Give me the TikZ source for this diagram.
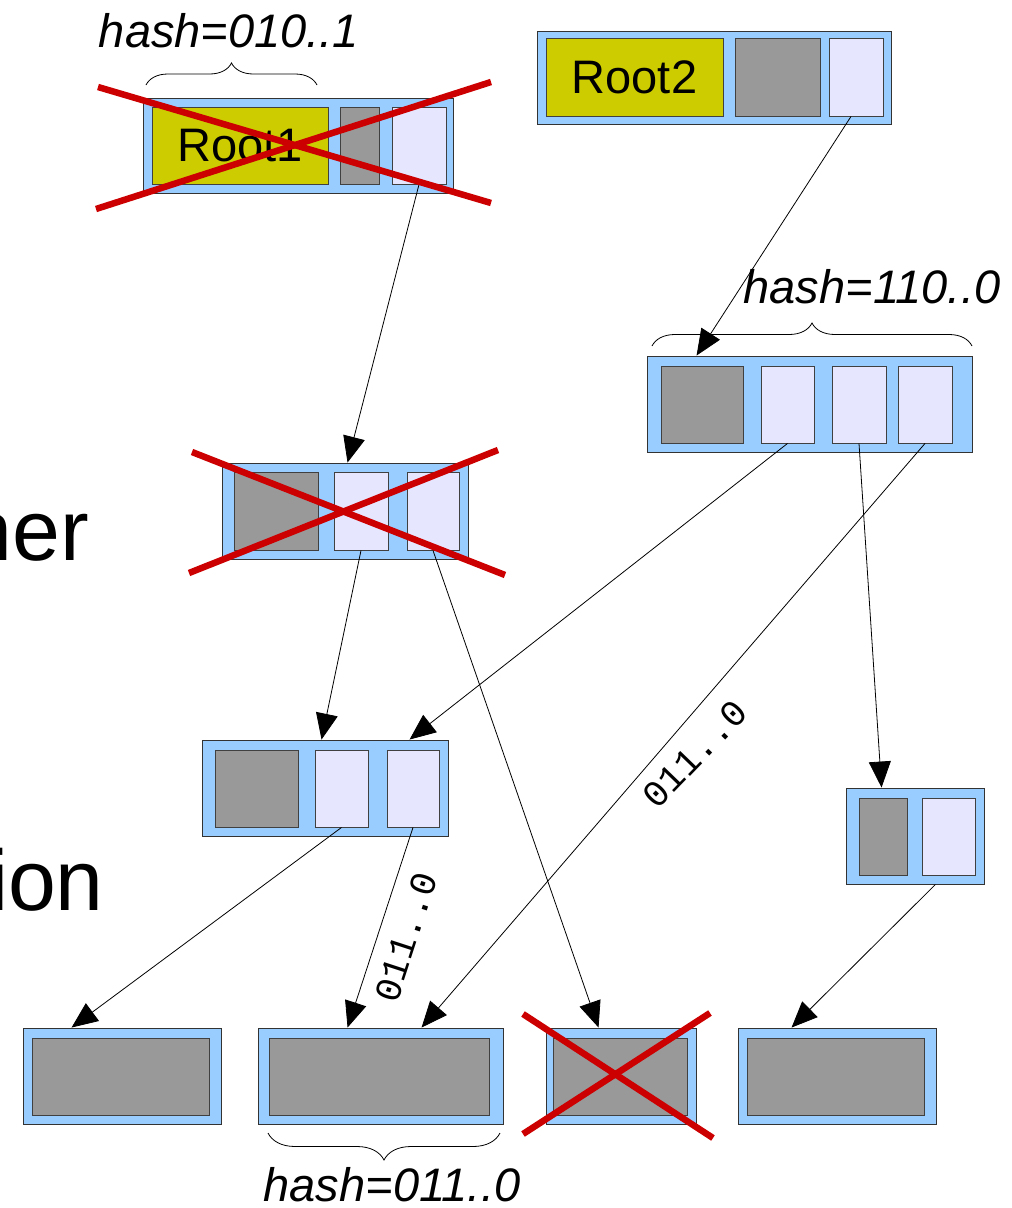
\documentclass[tikz,border=0pt]{standalone}
\usepackage{fontspec}
\setmainfont{Liberation Sans}
\newfontfamily\hashmono{Liberation Mono}
\usetikzlibrary{arrows.meta,decorations.pathreplacing}

\definecolor{cellblue}{RGB}{153,204,255}
\definecolor{cellgray}{RGB}{153,153,153}
\definecolor{celllight}{RGB}{230,230,255}
\definecolor{rootyellow}{RGB}{204,204,0}
\definecolor{killred}{RGB}{204,0,0}

\tikzset{
  blk/.style={draw=black!80, fill=cellblue, line width=0.9pt, minimum height=96pt, inner sep=0pt},
  gslot/.style={draw=black!75, fill=cellgray, line width=0.9pt, minimum height=77pt, inner sep=0pt},
  pslot/.style={draw=black!75, fill=celllight, line width=0.9pt, minimum width=53pt, minimum height=77pt, inner sep=0pt},
  rootlbl/.style={draw=black!75, fill=rootyellow, line width=0.9pt, minimum height=77pt, inner sep=0pt, font=\fontsize{47}{50}\selectfont},
  ptr/.style={-{Triangle[length=26pt,width=22pt]}, line width=0.8pt},
  kill/.style={draw=killred, line width=6.5pt},
  hashbrace/.style={decorate, decoration={brace, amplitude=#1}, line width=0.8pt},
  hashlbl/.style={inner sep=0.75pt, font=\fontsize{47}{50}\selectfont\itshape},
  edgelbl/.style={inner sep=0.75pt, font=\hashmono\fontsize{37}{40}\selectfont},
  slidetxt/.style={inner sep=0pt, font=\fontsize{86}{96}\selectfont}
}

\begin{document}
\begin{tikzpicture}[x=1pt,y=1pt,yscale=-1,xscale=1]
\useasboundingbox (0,0) rectangle (1012,1208);

% Text Node
\node [slidetxt, anchor=base east] (ner) at (89,560) {ner};
% Text Node
\node [slidetxt, anchor=base east] (ion) at (104,910) {ion};

%Shape: Rectangle -- old root
\node [blk, minimum width=310pt, minimum height=95pt] (r1) at (298,145.5) {};
\node [rootlbl, minimum width=176pt] (r1k) at (240,145.5) {Root1};
\node [gslot, minimum width=39pt] (r1g) at (359.5,145.5) {};
\node [pslot, minimum width=54pt] (r1p) at (419,145.5) {};

%Shape: Rectangle -- new root
\node [blk, minimum width=354pt, minimum height=93pt] (r2) at (714,77.5) {};
\node [rootlbl, minimum width=177pt, minimum height=78pt] (r2k) at (634.5,77) {Root2};
\node [gslot, minimum width=85pt, minimum height=78pt] (r2g) at (777.5,77) {};
\node [pslot, minimum width=54pt, minimum height=78pt] (r2p) at (856,77) {};

%Shape: Rectangle -- old inner node
\node [blk, minimum width=246pt] (a) at (345,511) {};
\node [gslot, minimum width=84pt, minimum height=78pt] (ag) at (276,511) {};
\node [pslot, minimum width=54pt, minimum height=78pt] (a1) at (361,511) {};
\node [pslot, minimum width=52pt, minimum height=78pt] (a2) at (433,511) {};

%Shape: Rectangle -- new inner node
\node [blk, minimum width=325pt] (b) at (809.5,404) {};
\node [gslot, minimum width=82pt] (bg) at (702,404.5) {};
\node [pslot] (b1) at (787.5,404.5) {};
\node [pslot, minimum width=54pt] (b2) at (859,404.5) {};
\node [pslot, minimum width=54pt] (b3) at (925,404.5) {};

%Shape: Rectangle -- shared node
\node [blk, minimum width=246pt] (c) at (325,788) {};
\node [gslot, minimum width=83pt] (cg) at (256.5,788.5) {};
\node [pslot] (c1) at (341.5,788.5) {};
\node [pslot, minimum width=52pt] (c2) at (413,788.5) {};

%Shape: Rectangle -- small node
\node [blk, minimum width=138pt] (d) at (915,836) {};
\node [gslot, minimum width=48pt] (dg) at (883,836.5) {};
\node [pslot] (dp) at (948.5,836.5) {};

%Shape: Rectangle -- leaves
\node [blk, minimum width=198pt] (leaf1) at (122,1076) {};
\node [gslot, minimum width=177pt] (leaf1g) at (120.5,1076.5) {};
\node [blk, minimum width=245pt] (leaf2) at (380.5,1076) {};
\node [gslot, minimum width=220pt] (leaf2g) at (379,1076.5) {};
\node [blk, minimum width=150pt] (leaf3) at (621,1076) {};
\node [gslot, minimum width=134pt] (leaf3g) at (620,1076.5) {};
\node [blk, minimum width=198pt] (leaf4) at (837,1076) {};
\node [gslot, minimum width=177pt] (leaf4g) at (835.5,1076.5) {};

%Curve Lines -- braces
\draw [hashbrace=22pt] (146,85) -- (317,85);
\draw [hashbrace=23pt] (652,346) -- (972,346);
\draw [hashbrace=27pt] (500,1133) -- (268,1133);

% Text Node
\node [hashlbl, anchor=base] (h1) at (229,47) {hash=010..1};
% Text Node
\node [hashlbl, anchor=base] (h2) at (872,303) {hash=110..0};
% Text Node
\node [hashlbl, anchor=base] (h3) at (392,1201) {hash=011..0};

%Straight Lines -- pointers
\draw [ptr] (r1p.south) -- ([xshift=126pt]a.north west);
\draw [ptr] ([xshift=-5pt]r2p.south) -- ([xshift=50pt]b.north west);
\draw [ptr] (a1.south) -- ([xshift=120pt]c.north west);
\draw [ptr] (a2.south) -- ([xshift=53pt]leaf3.north west);
\draw [ptr] (b1.south) -- ([xshift=208pt]c.north west);
\draw [ptr] (b2.south) -- ([xshift=36pt]d.north west);
\draw [ptr] (b3.south) -- ([xshift=164pt]leaf2.north west);
\draw [ptr] (c1.south) -- ([xshift=49pt]leaf1.north west);
\draw [ptr] (c2.south) -- ([xshift=90pt]leaf2.north west);
\draw [ptr] ([xshift=-49pt]d.south east) -- ([xshift=54pt]leaf4.north west);

% Text Node
\node [edgelbl, rotate=46] (e1) at (695,754) {011..0};
% Text Node
\node [edgelbl, rotate=72] (e2) at (406,937) {011..0};

%Straight Lines -- red crosses
\draw [kill] (98,87) -- (491,203);
\draw [kill] (96,209) -- (491,82);
\draw [kill] (192,452) -- (505,575);
\draw [kill] (189,573) -- (498,450);
\draw [kill] (523,1014) -- (713,1138);
\draw [kill] (523,1134) -- (710,1013);
\end{tikzpicture}
\end{document}
